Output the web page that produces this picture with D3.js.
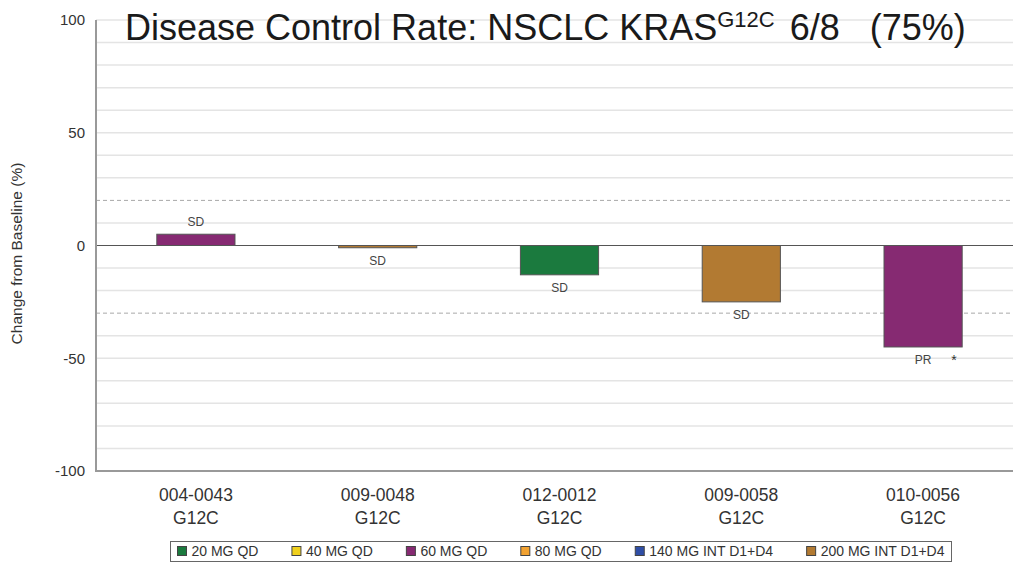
<!DOCTYPE html>
<html>
<head>
<meta charset="utf-8">
<script src="https://cdn.jsdelivr.net/npm/d3@7"></script>
<style>
  html, body { margin: 0; padding: 0; background: #fff; }
  svg { display: block; font-family: "Liberation Sans", Arial, sans-serif; }
</style>
</head>
<body>
<div class="svg-container"></div>
<script>
const patients = ["004-0043", "009-0048", "012-0012", "009-0058", "010-0056"];
const mutations = ["G12C", "G12C", "G12C", "G12C", "G12C"];
const changes = [5, -1, -13, -25, -45];
const doses = ["60 MG QD", "200 MG INT D1+D4", "20 MG QD", "200 MG INT D1+D4", "60 MG QD"];
const responses = ["SD", "SD", "SD", "SD", "PR"];
const notes = ["", "", "", "", "*"];

const doseLevels = ["20 MG QD", "40 MG QD", "60 MG QD", "80 MG QD", "140 MG INT D1+D4", "200 MG INT D1+D4"];
const doseColors = ["#1b7a3e", "#f0d01c", "#862a72", "#f2a231", "#2f4ea6", "#b27a32"];
const yTicks = [100, 50, 0, -50, -100];
const thresholds = [20, -30];

const width = 1013, height = 568;
const margin = { top: 20, left: 96, bottom: 97, right: 0 };

const color = d3.scaleOrdinal(doseLevels, doseColors);

const y = d3.scaleLinear()
  .domain([-100, 100])
  .range([height - margin.bottom, margin.top]);

const x = d3.scaleBand()
  .domain(patients)
  .range([105, 1014])
  .paddingInner(0.57)
  .paddingOuter(0.285);

const svg = d3.select("div.svg-container")
  .append("svg")
  .attr("width", width)
  .attr("height", height);

// light horizontal grid every 10
svg.append("g")
  .selectAll("line")
  .data(d3.range(-90, 101, 10).filter((v) => v !== 0 && !thresholds.includes(v)))
  .join("line")
  .attr("x1", margin.left)
  .attr("x2", width)
  .attr("y1", (d) => y(d))
  .attr("y2", (d) => y(d))
  .attr("stroke", "#e4e4e4")
  .attr("stroke-width", 1.5);

// response thresholds
svg.append("g")
  .selectAll("line")
  .data(thresholds)
  .join("line")
  .attr("x1", margin.left)
  .attr("x2", width)
  .attr("y1", (d) => y(d))
  .attr("y2", (d) => y(d))
  .attr("stroke", "#a8a8a8")
  .attr("stroke-dasharray", "4,3");

// bars
const rows = patients.map((p, i) => ({
  id: p, mut: mutations[i], value: changes[i], dose: doses[i], resp: responses[i], note: notes[i]
}));

svg.append("g")
  .selectAll("rect")
  .data(rows)
  .join("rect")
  .attr("x", (d) => x(d.id))
  .attr("width", x.bandwidth())
  .attr("y", (d) => y(Math.max(0, d.value)))
  .attr("height", (d) => Math.abs(y(d.value) - y(0)))
  .attr("fill", (d) => color(d.dose))
  .attr("stroke", "#555")
  .attr("stroke-width", 1);

// zero line
svg.append("line")
  .attr("x1", margin.left)
  .attr("x2", width)
  .attr("y1", y(0))
  .attr("y2", y(0))
  .attr("stroke", "#555")
  .attr("stroke-width", 1.2);

// response labels
svg.append("g")
  .attr("font-size", 12)
  .attr("fill", "#444")
  .attr("text-anchor", "middle")
  .selectAll("text")
  .data(rows)
  .join("text")
  .attr("x", (d) => x(d.id) + x.bandwidth() / 2)
  .attr("y", (d) => d.value >= 0 ? y(d.value) - 12 : y(d.value) + 13)
  .attr("dy", "0.35em")
  .text((d) => d.resp);

svg.append("g")
  .attr("font-size", 14)
  .attr("fill", "#333")
  .selectAll("text")
  .data(rows.filter((d) => d.note))
  .join("text")
  .attr("x", (d) => x(d.id) + x.bandwidth() - 11)
  .attr("y", (d) => y(d.value) + 13)
  .attr("dy", "0.35em")
  .text((d) => d.note);

// y axis
const yAxis = svg.append("g")
  .attr("transform", `translate(${margin.left},0)`)
  .call(d3.axisLeft(y).tickValues(yTicks).tickSize(0).tickPadding(11).tickFormat((d) => String(d)));
yAxis.select(".domain").remove();
yAxis.selectAll("text")
  .attr("font-size", 15)
  .attr("fill", "#333")
  .attr("font-family", "Liberation Sans, Arial, sans-serif");

svg.append("line")
  .attr("x1", margin.left)
  .attr("x2", margin.left)
  .attr("y1", y(100))
  .attr("y2", y(-100) + 1)
  .attr("stroke", "#999")
  .attr("stroke-width", 2);

svg.append("line")
  .attr("x1", margin.left)
  .attr("x2", width)
  .attr("y1", y(-100))
  .attr("y2", y(-100))
  .attr("stroke", "#999")
  .attr("stroke-width", 2);

svg.append("text")
  .attr("transform", `translate(17,${y(0) + 8}) rotate(-90)`)
  .attr("text-anchor", "middle")
  .attr("dy", "0.35em")
  .attr("font-size", 15.5)
  .attr("fill", "#333")
  .text("Change from Baseline (%)");

// x labels (patient id + mutation)
const xl = svg.append("g")
  .attr("font-size", 17.5)
  .attr("fill", "#333")
  .attr("text-anchor", "middle")
  .selectAll("g")
  .data(rows)
  .join("g")
  .attr("transform", (d) => `translate(${x(d.id) + x.bandwidth() / 2},0)`);
xl.append("text").attr("y", 501).text((d) => d.id);
xl.append("text").attr("y", 524).text((d) => d.mut);

// title
const title = svg.append("text")
  .attr("x", 125)
  .attr("y", 40)
  .attr("font-size", 36)
  .attr("fill", "#1a1a1a");
title.append("tspan").text("Disease Control Rate: NSCLC KRAS");
title.append("tspan").attr("font-size", 22).attr("dy", -13).text("G12C");
title.append("tspan").attr("dy", 13).attr("dx", 15).text("6/8");
title.append("tspan").attr("dx", 30).text("(75%)");

// legend
const legend = svg.append("g");
legend.append("rect")
  .attr("x", 170.5)
  .attr("y", 541.5)
  .attr("width", 781)
  .attr("height", 20)
  .attr("fill", "#fff")
  .attr("stroke", "#666");

const items = legend.selectAll("g")
  .data(doseLevels)
  .join("g");
items.append("rect")
  .attr("width", 9)
  .attr("height", 9)
  .attr("y", 546.5)
  .attr("fill", (d) => color(d))
  .attr("stroke", "#444");
items.append("text")
  .attr("x", 14)
  .attr("y", 551.5)
  .attr("dy", "0.35em")
  .attr("font-size", 14)
  .attr("fill", "#333")
  .text((d) => d);

const widths = items.select("text").nodes().map((n) => 14 + n.getComputedTextLength());
const inner = 781 - 14;
const gap = (inner - d3.sum(widths)) / (doseLevels.length - 1);
let cx = 170.5 + 7;
items.attr("transform", (d, i) => {
  const t = `translate(${cx},0)`;
  cx += widths[i] + gap;
  return t;
});
</script>
</body>
</html>
